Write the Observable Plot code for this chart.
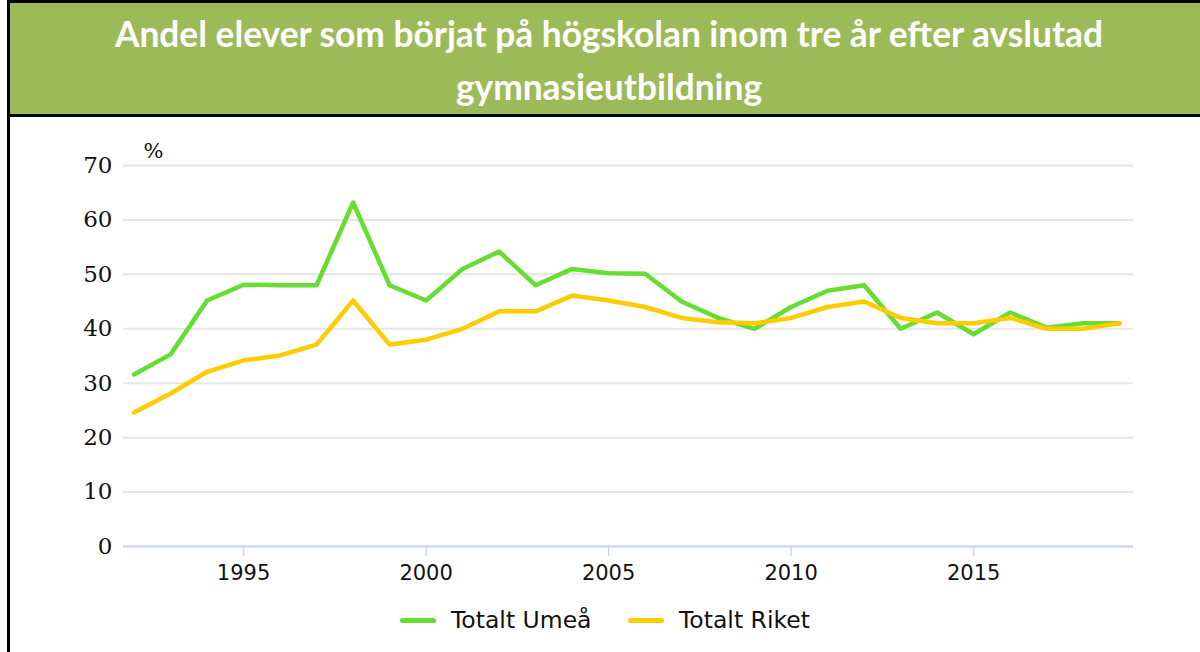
<!DOCTYPE html>
<html>
<head>
<meta charset="utf-8">
<script src="https://cdn.jsdelivr.net/npm/d3@7"></script>
<script src="https://cdn.jsdelivr.net/npm/@observablehq/plot@0.6"></script>
<style>
  html, body { margin: 0; padding: 0; background: #fff; }
  #wrap { position: relative; width: 1200px; height: 652px; overflow: hidden; }
  #title {
    position: absolute; left: 7px; top: 0; width: 1200px; height: 111px;
    background: #9bbb59; border-top: 3px solid #000; border-left: 3px solid #000; border-bottom: 3px solid #000;
    color: #fff; font-family: Lato, sans-serif; font-weight: bold; font-size: 35.3px;
    text-align: center; box-sizing: content-box; line-height: 1;
  }
  #title div { position: absolute; left: 0; width: 1198px; text-align: center; }
  #leftborder { position: absolute; left: 7px; top: 117px; width: 3px; height: 535px; background: #000; }
  #chart { position: absolute; left: 0; top: 117px; }
  #legend { position: absolute; left: 0; top: 597px; width: 1200px; height: 44px;
    font-family: "DejaVu Sans", sans-serif; font-size: 23.5px; color: #111; }
  .lg { position: absolute; top: 9px; display: flex; align-items: center; white-space: nowrap; }
  .sw { width: 36px; height: 5px; border-radius: 3px; margin-right: 15px; }
</style>
</head>
<body>
<div id="wrap">
  <div id="title">
    <div style="top:13px">Andel elever som börjat på högskolan inom tre år efter avslutad</div>
    <div style="top:66px">gymnasieutbildning</div>
  </div>
  <div id="leftborder"></div>
  <div id="chart"></div>
  <div id="legend"></div>
</div>
<script>
const years = d3.range(1992, 2020);
const seriesNames = ["Totalt Umeå", "Totalt Riket"];
const umea  = [31.6, 35.3, 45.2, 48.1, 48.0, 48.0, 63.2, 48.0, 45.2, 51.0, 54.2, 48.0, 51.0, 50.2, 50.1, 45.0, 42.0, 40.0, 44.0, 47.0, 48.0, 40.0, 43.0, 39.0, 43.0, 40.2, 41.0, 41.0];
const riket = [24.6, 28.1, 32.1, 34.2, 35.1, 37.1, 45.2, 37.1, 38.0, 40.0, 43.2, 43.2, 46.1, 45.2, 44.0, 42.0, 41.2, 41.0, 42.0, 44.0, 45.0, 42.0, 41.0, 41.0, 42.0, 40.0, 40.0, 41.0];
const colors = ["#66dd33", "#ffcc00"];
const yTicks = [0, 10, 20, 30, 40, 50, 60, 70];
const xTicks = [1995, 2000, 2005, 2010, 2015];

const data = [];
years.forEach((y, i) => {
  data.push({year: y, value: umea[i], series: seriesNames[0]});
  data.push({year: y, value: riket[i], series: seriesNames[1]});
});

const plot = Plot.plot({
  width: 1200,
  height: 480,
  marginLeft: 123,
  marginRight: 67,
  marginTop: 48,
  marginBottom: 51,
  style: {fontFamily: "DejaVu Sans, sans-serif", fontSize: "20px", color: "#111", background: "transparent"},
  x: {domain: [1991.71, 2019.38]},
  y: {domain: [0, 70]},
  color: {domain: seriesNames, range: colors},
  marks: [
    Plot.gridY(yTicks, {stroke: "#e6e6e6", strokeOpacity: 1, strokeWidth: 2}),
    Plot.axisY(yTicks, {tickSize: 0, tickPadding: 11, fontFamily: "DejaVu Serif, serif", fontSize: 23, label: null, fill: "#111"}),
    Plot.ruleY([0], {stroke: "#ccd6eb", strokeWidth: 2}),
    Plot.axisX(xTicks, {tickSize: 10, tickPadding: 9, tickFormat: "d", stroke: "#ccd6eb", strokeWidth: 1.5, label: null, fill: "#111", fontSize: 21}),
    Plot.line(data, {x: "year", y: "value", z: "series", stroke: "series", strokeWidth: 4.5, strokeLinejoin: "round", strokeLinecap: "round"}),
    Plot.text(["%"], {frameAnchor: "top-left", dx: 20, dy: -22, fontFamily: "DejaVu Serif, serif", fontSize: 21, fill: "#111"})
  ]
});
document.getElementById("chart").appendChild(plot);

const legend = document.getElementById("legend");
const lx = [400, 628];
seriesNames.forEach((name, i) => {
  const d = document.createElement("div");
  d.className = "lg";
  d.style.left = lx[i] + "px";
  d.innerHTML = `<span class="sw" style="background:${colors[i]}"></span><span>${name}</span>`;
  legend.appendChild(d);
});
</script>
</body>
</html>
